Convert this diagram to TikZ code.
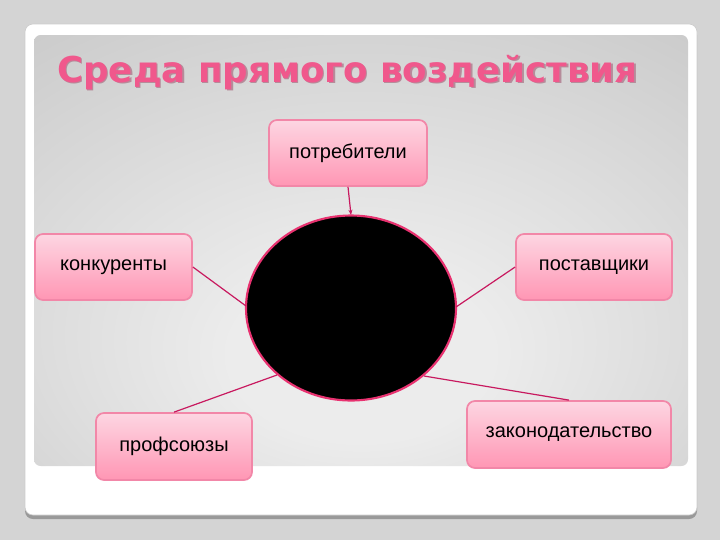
\documentclass[tikz,border=0pt]{standalone}
\usepackage{fontspec}
\setmainfont{Liberation Sans}
\newfontfamily\titlefont{DejaVu Sans}
\usetikzlibrary{shapes.geometric,arrows.meta}
\definecolor{bgc}{RGB}{212,212,212}
\definecolor{pin}{RGB}{236,236,236}
\definecolor{pmid}{RGB}{204,204,204}
\definecolor{pout}{RGB}{174,174,174}
\definecolor{pdark}{RGB}{155,155,155}
\definecolor{boxtop}{RGB}{253,214,226}
\definecolor{boxbot}{RGB}{255,150,180}
\definecolor{boxline}{RGB}{242,135,168}
\definecolor{linkc}{RGB}{200,25,95}
\definecolor{ringc}{RGB}{232,50,112}
\definecolor{titlec}{RGB}{240,88,140}
\definecolor{titlesh}{RGB}{150,90,110}
\pgfdeclareradialshading{panel}{\pgfpoint{0bp}{-14bp}}{color(0bp)=(pin);color(10bp)=(pin);color(40bp)=(pmid);color(58bp)=(pout);color(75bp)=(pdark)}
\begin{document}
\begin{tikzpicture}[x=0.75pt,y=-0.75pt,
  box/.style={draw=boxline, line width=1.3pt, rounded corners=6pt, top color=boxtop, bottom color=boxbot, inner sep=0pt, font=\fontsize{15}{18}\selectfont, text=black},
  link/.style={draw=linkc, line width=0.9pt},
  ttl/.style={anchor=base west, inner sep=0pt, font=\titlefont\bfseries\fontsize{26.7}{32}\selectfont}]
\useasboundingbox (0,0) rectangle (720,540);
\fill[bgc] (0,0) rectangle (720,540);
% frame
\fill[gray!80, rounded corners=6pt] (25,27) rectangle (697,519);
\fill[white, rounded corners=6pt] (25,24) rectangle (697,515);
\draw[gray!40, line width=0.5pt, rounded corners=6pt] (25,24) rectangle (697,515);
% panel
\shade[shading=panel, rounded corners=5pt] (34,35) rectangle (688,466);
% title
\node[ttl, text=titlesh!70] at (58.5,83.5) {Среда прямого воздействия};
\node[ttl, text=titlec] (title) at (57,82) {Среда прямого воздействия};
% center
\node[ellipse, draw=ringc, line width=1.6pt, fill=black, minimum width=157.5pt, minimum height=138.75pt, inner sep=0pt] (c) at (351,308) {};
% boxes
\node[box, minimum width=118.5pt, minimum height=49.5pt] (p) at (348,153) {потребители};
\node[box, minimum width=117.75pt, minimum height=49.5pt] (k) at (113.5,267) {конкуренты};
\node[box, minimum width=117pt, minimum height=49.5pt] (s) at (594,267) {поставщики};
\node[box, minimum width=117pt, minimum height=50.25pt] (u) at (174,446.5) {профсоюзы};
\node[box, minimum width=153pt, minimum height=50.25pt] (z) at (569,434.5) {законодательство};
% links
\coordinate (cp) at (351,215);
\coordinate (ck) at (246,306);
\coordinate (cs) at (456,307);
\coordinate (cu) at (277,375);
\coordinate (cz) at (424,376);
\draw[link, -{Stealth[length=4pt,width=3pt]}] (p.south) -- (cp);
\draw[link] (k.east) -- (ck);
\draw[link] (s.west) -- (cs);
\draw[link] (u.north) -- (cu);
\draw[link] (z.north) -- (cz);
\end{tikzpicture}
\end{document}
